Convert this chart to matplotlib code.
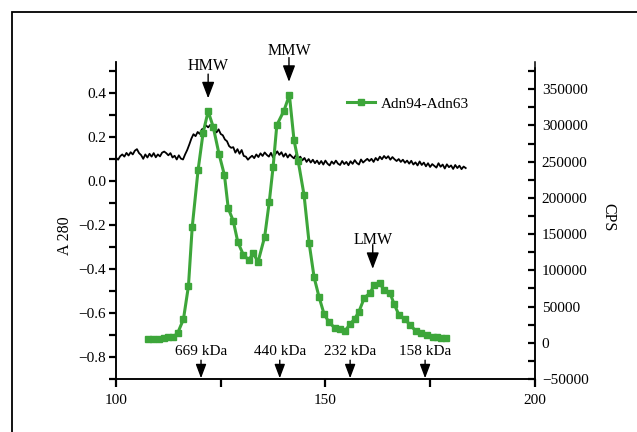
import numpy as np
import matplotlib.pyplot as plt
from matplotlib.patches import Rectangle

plt.rcParams['font.family'] = ['Liberation Serif', 'DejaVu Serif']

# A280 trace, sampled every 0.5 from 100
a280_start = 100.0
a280_step = 0.5
a280 = [0.105, 0.096, 0.112, 0.12, 0.11, 0.127, 0.115, 0.13, 0.12,
        0.137, 0.144, 0.126, 0.117, 0.1, 0.12, 0.106, 0.123,
        0.11, 0.126, 0.107, 0.12, 0.111, 0.128, 0.133, 0.126,
        0.116, 0.126, 0.106, 0.114, 0.097, 0.116, 0.101, 0.097,
        0.12, 0.14, 0.165, 0.192, 0.212, 0.203, 0.222, 0.213,
        0.234, 0.238, 0.252, 0.243, 0.254, 0.233, 0.242, 0.22,
        0.234, 0.213, 0.207, 0.188, 0.18, 0.158, 0.15, 0.153,
        0.128, 0.144, 0.123, 0.14, 0.113, 0.11, 0.096, 0.106,
        0.114, 0.103, 0.12, 0.108, 0.125, 0.113, 0.129, 0.118,
        0.11, 0.127, 0.106, 0.12, 0.134, 0.118, 0.13, 0.11,
        0.124, 0.106, 0.12, 0.11, 0.102, 0.119, 0.098, 0.11,
        0.093, 0.104, 0.086, 0.099, 0.083, 0.096, 0.08, 0.092,
        0.076, 0.09, 0.074, 0.092, 0.078, 0.07, 0.088, 0.077,
        0.092, 0.078, 0.072, 0.09, 0.076, 0.086, 0.071, 0.089,
        0.077, 0.094, 0.081, 0.074, 0.097, 0.083, 0.092, 0.1,
        0.09, 0.1, 0.086, 0.104, 0.093, 0.11, 0.098, 0.113,
        0.102, 0.112, 0.096, 0.108, 0.098, 0.09, 0.099, 0.086,
        0.096, 0.082, 0.092, 0.078, 0.091, 0.074, 0.084, 0.07,
        0.088, 0.072, 0.083, 0.066, 0.08, 0.063, 0.076, 0.068,
        0.06, 0.08, 0.064, 0.074, 0.056, 0.075, 0.062, 0.07,
        0.054, 0.072, 0.058, 0.069, 0.053, 0.065, 0.058]
a280_x = a280_start + a280_step * np.arange(len(a280))

# CPS fractions (Adn94-Adn63)
cps_x = [107.7, 108.9, 110.3, 111.5, 112.5, 113.7, 114.7, 116.1, 117.3, 118.2,
         119.6, 120.8, 122.0, 123.2, 124.6, 125.9, 126.8, 128.0, 129.1, 130.4,
         131.7, 132.8, 133.9, 135.5, 136.6, 137.5, 138.4, 140.1, 141.4, 142.5,
         143.5, 144.9, 146.1, 147.3, 148.5, 149.7, 150.9, 152.3, 153.5, 154.7,
         155.9, 157.0, 158.0, 159.3, 160.6, 161.7, 163.0, 164.0, 165.4, 166.4,
         167.6, 169.0, 170.2, 171.6, 172.8, 174.2, 175.6, 176.7, 177.7, 178.9]
cps = [4700, 4700, 5500, 6900, 7500, 8300, 13000, 32300, 78300, 159800,
       238500, 290000, 319600, 298300, 260600, 231200, 185600, 168100, 138700, 121500,
       114200, 123500, 111400, 146400, 194700, 242200, 300600, 320400, 342100, 279900,
       250900, 203900, 138100, 90300, 62700, 39200, 28200, 19900, 18500, 16600,
       25400, 33100, 42800, 62100, 68200, 79700, 82000, 72800, 69100, 53400,
       37800, 32700, 24400, 16200, 13000, 10600, 8300, 7500, 6900, 6100]

peak_names = ['HMW', 'MMW', 'LMW']
peak_x = [122.0, 141.3, 161.3]

marker_names = ['669 kDa', '440 kDa', '232 kDa', '158 kDa']
marker_x = [120.3, 139.1, 155.9, 173.8]

left_ticks = [0.4, 0.2, 0.0, -0.2, -0.4, -0.6, -0.8]
left_labels = ['0.4', '0.2', '0.0', '\u22120.2', '\u22120.4', '\u22120.6', '\u22120.8']
right_ticks = [350000, 300000, 250000, 200000, 150000, 100000, 50000, 0, -50000]
right_labels = ['350000', '300000', '250000', '200000', '150000', '100000', '50000', '0', '\u221250000']

green = '#3da63a'
fs = 11

fig = plt.figure(figsize=(6.37, 4.32), dpi=100)
ax = fig.add_axes([0.1821, 0.1229, 0.6575, 0.7336])
ax2 = ax.twinx()

ax.plot(a280_x, a280, color='black', lw=1.3)
ax2.plot(cps_x, cps, color=green, lw=2.2, marker='s', markersize=5, label='Adn94-Adn63')

ax.set_xlim(100, 200)
ax.set_ylim(-0.9, 0.54)
ax2.set_ylim(-50000, 387700)

for a in (ax, ax2):
    a.spines['top'].set_visible(False)
    for s in a.spines.values():
        s.set_linewidth(1.1)
ax2.spines['right'].set_bounds(-50000, 380000)

ax.set_xticks([100, 150, 200])
ax.set_xticks([125, 175], minor=True)
ax.set_yticks(left_ticks)
ax.set_yticklabels(left_labels)
ax.set_yticks(np.arange(-0.9, 0.55, 0.1), minor=True)
ax.tick_params(axis='x', which='both', direction='out', length=6, width=1.6, labelsize=fs, pad=5)
ax.tick_params(axis='y', which='both', direction='out', length=5, width=1.6, labelsize=fs, pad=2)

ax2.set_yticks(right_ticks)
ax2.set_yticklabels(right_labels)
ax2.set_yticks(np.arange(-25000, 380000, 50000), minor=True)
ax2.tick_params(axis='y', which='both', direction='in', length=5, width=1.6, labelsize=fs, pad=5)

ax.text(-0.122, 0.4525, 'A 280', transform=ax.transAxes, rotation=90,
        ha='center', va='center', fontsize=11.5)
ax2.text(1.176, 0.509, 'CPS', transform=ax2.transAxes, rotation=270,
         ha='center', va='center', fontsize=11.5)

# peak arrows (left axis units)
peak_text_y = [0.52, 0.59, -0.27]
peak_tail_y = [0.485, 0.56, -0.29]
peak_head_y = [0.375, 0.45, -0.40]
for name, x, ty, t0, t1 in zip(peak_names, peak_x, peak_text_y, peak_tail_y, peak_head_y):
    ax.text(x, ty, name, ha='center', va='center', fontsize=11.5, clip_on=False)
    ax.annotate('', xy=(x, t1), xytext=(x, t0), annotation_clip=False,
                arrowprops=dict(arrowstyle='-|>,head_length=1.0,head_width=0.38',
                                mutation_scale=10, color='black', lw=1, shrinkA=0, shrinkB=0))

for name, x in zip(marker_names, marker_x):
    ax.text(x, -0.777, name, ha='center', va='center', fontsize=fs)
    ax.annotate('', xy=(x, -0.897), xytext=(x, -0.815),
                arrowprops=dict(arrowstyle='-|>,head_length=0.85,head_width=0.32',
                                mutation_scale=10, color='black', lw=1, shrinkA=0, shrinkB=0))

ax2.legend(loc='center left', bbox_to_anchor=(0.5516, 0.8675), frameon=False,
           borderpad=0, borderaxespad=0, handlelength=1.8, handletextpad=0.4, fontsize=fs)

fig.add_artist(Rectangle((12 / 637, -0.1), 1.2, 1 - 12 / 432 + 0.1, transform=fig.transFigure,
                         fill=False, edgecolor='black', lw=1.3))

fig.savefig('out.png', dpi=100)
